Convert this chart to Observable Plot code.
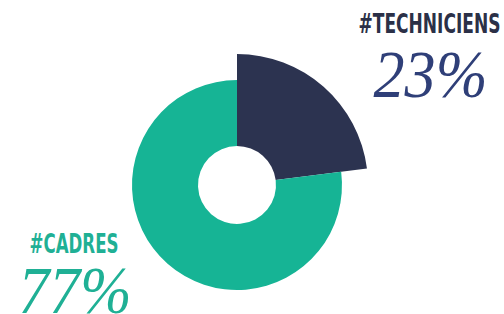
<!DOCTYPE html>
<html><head><meta charset="utf-8">
<script src="https://cdn.jsdelivr.net/npm/d3@7"></script>
<script src="https://cdn.jsdelivr.net/npm/@observablehq/plot@0.6"></script>
<style>html,body{margin:0;padding:0;background:#fff;overflow:hidden}</style>
</head><body><div id="chart"></div>
<script>
// ---- data ----
const categories = ["#TECHNICIENS", "#CADRES"];
const values = [23, 77];
const valueLabels = ["23%", "77%"];

// ---- styling / layout (kept separate from data) ----
const sliceColors = ["#2c3350", "#16b495"];
const nameColors = ["#2b3047", "#1fb095"];
const pctColors = ["#2f3f78", "#1fb095"];
const outerRadii = [131, 105];
const innerRadius = 39;
const center = {x: 237, y: 185};
const nameLayout = [
  {x: 500, y: 32, anchor: "end", len: 142},
  {x: 29, y: 252, anchor: "start", len: 89}
];
const pctLayout = [
  {x: 373, y: 96, anchor: "start", len: 114},
  {x: 18, y: 312, anchor: "start", len: 113}
];

const data = categories.map((c, i) => ({category: c, value: values[i], label: valueLabels[i]}));
const pie = d3.pie().sort(null).value(d => d.value)(data);

const W = 504, H = 314;

function donut(index, scales) {
  const g = d3.create("svg:g");
  const cx = scales.x(center.x), cy = scales.y(center.y);
  const arc = d3.arc();
  g.selectAll("path").data(pie).join("path")
    .attr("transform", `translate(${cx},${cy})`)
    .attr("fill", (d, i) => sliceColors[i])
    .attr("d", (d, i) => arc({innerRadius, outerRadius: outerRadii[i], startAngle: d.startAngle, endAngle: d.endAngle}));
  return g.node();
}

const nameData = data.map((d, i) => ({...d, ...nameLayout[i], color: nameColors[i]}));
const pctData = data.map((d, i) => ({...d, ...pctLayout[i], color: pctColors[i]}));

const plot = Plot.plot({
  width: W, height: H,
  margin: 0,
  x: {domain: [0, W], range: [0, W], axis: null},
  y: {domain: [0, H], range: [0, H], axis: null},
  style: {background: "#fff", overflow: "visible"},
  marks: [
    donut,
    Plot.text(nameData.filter(d => d.anchor === "end"), {x: "x", y: "y", text: "category", fill: "color",
      textAnchor: "end", lineAnchor: "bottom", fontSize: 26, fontWeight: "bold",
      fontFamily: "'Liberation Sans Narrow', 'DejaVu Sans Condensed', sans-serif"}),
    Plot.text(nameData.filter(d => d.anchor === "start"), {x: "x", y: "y", text: "category", fill: "color",
      textAnchor: "start", lineAnchor: "bottom", fontSize: 26, fontWeight: "bold",
      fontFamily: "'Liberation Sans Narrow', 'DejaVu Sans Condensed', sans-serif"}),
    Plot.text(pctData, {x: "x", y: "y", text: "label", fill: "color",
      textAnchor: "start", lineAnchor: "bottom", fontSize: 68, fontStyle: "italic",
      fontFamily: "'Liberation Serif', 'DejaVu Serif', serif"})
  ]
});

// fit text widths to the reference
const svg = d3.select(plot);
svg.selectAll("text").each(function() {
  const t = d3.select(this).text();
  const all = [...nameData.map(d => [d.category, d.len]), ...pctData.map(d => [d.label, d.len])];
  const m = all.find(a => a[0] === t);
  if (m) d3.select(this).attr("textLength", m[1]).attr("lengthAdjust", "spacingAndGlyphs");
});

document.getElementById("chart").append(plot);
</script>
</body></html>
